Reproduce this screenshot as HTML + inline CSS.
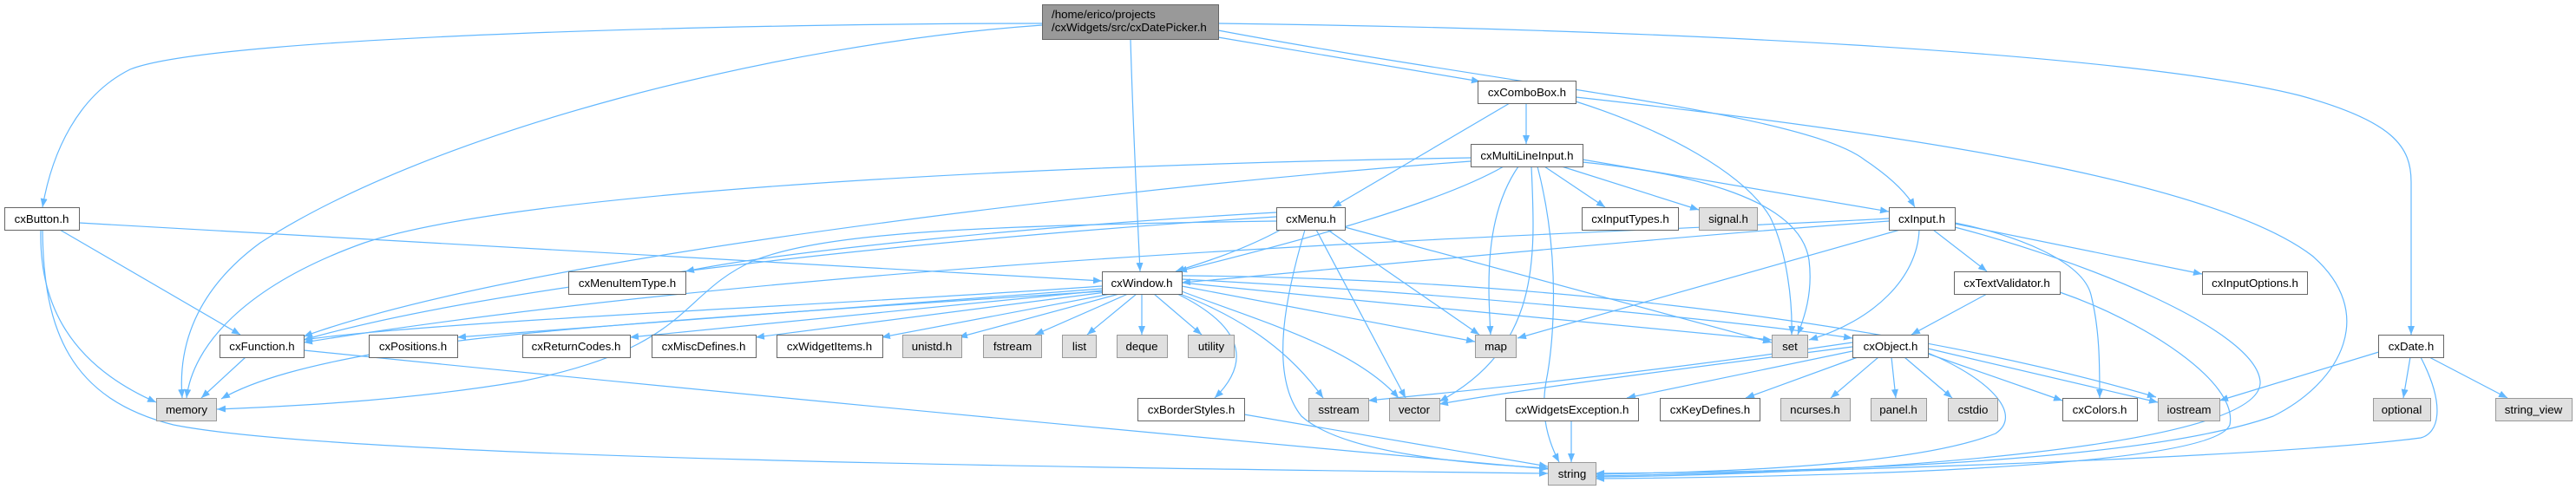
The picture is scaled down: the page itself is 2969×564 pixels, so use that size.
<!DOCTYPE html>
<html><head><meta charset="utf-8"><style>
html,body{margin:0;padding:0;background:#fff;}
svg{display:block;}
text{font-family:"Liberation Sans",Arial,Helvetica,sans-serif;font-size:13.3px;fill:#000;}
</style></head><body>
<svg width="2969" height="564" viewBox="0 0 2969 564" xmlns="http://www.w3.org/2000/svg">
<defs>
<marker id="a" markerUnits="userSpaceOnUse" markerWidth="11" markerHeight="9" refX="10" refY="4" orient="auto">
<path d="M0,0 L10,4 L0,8 Z" fill="#63b8ff"/>
</marker>
</defs>
<g fill="none" stroke="#63b8ff" stroke-width="1.2" marker-end="url(#a)">
<path d="M1201,27 C900,27 250,40 150,80 C90,110 60,175 49,239"/>
<path d="M1201,29 C900,50 500,150 300,280 C225,335 205,400 210,459"/>
<path d="M1303,46 C1306,150 1311,250 1314,313"/>
<path d="M1404,43 L1706,94"/>
<path d="M1404,35 C1750,100 2080,130 2150,185 C2180,205 2197,222 2207,239"/>
<path d="M1404,27 C1900,33 2450,60 2650,110 C2760,140 2779,170 2779,210 L2779,386"/>
<path d="M91,257 L1270,324"/>
<path d="M69,265 L277,386"/>
<path d="M47,265 C45,350 80,420 180,464"/>
<path d="M49,265 C50,380 80,460 200,490 C400,530 1300,540 1784,546"/>
<path d="M1740,119 L1536,239"/>
<path d="M1759,119 L1759,166"/>
<path d="M1816,117 C1920,150 2010,200 2040,250 C2060,290 2066,350 2065,386"/>
<path d="M1816,112 C2250,160 2560,215 2665,295 C2740,360 2700,440 2620,480 C2450,540 2000,545 1839,546"/>
<path d="M1733,192 C1650,240 1450,290 1358,313"/>
<path d="M1824,184 L2177,244"/>
<path d="M1780,192 L1850,239"/>
<path d="M1800,192 L1958,242"/>
<path d="M1695,182 C1200,190 600,220 420,280 C280,330 222,400 215,459"/>
<path d="M1695,186 C1300,215 900,270 700,305 C500,340 400,370 350,388"/>
<path d="M1750,192 C1710,250 1715,330 1718,386"/>
<path d="M1765,192 C1770,300 1775,400 1659,463"/>
<path d="M1772,192 C1800,300 1790,400 1782,440 C1775,480 1785,510 1797,533"/>
<path d="M1824,187 C1950,200 2075,230 2085,300 C2090,340 2078,370 2072,386"/>
<path d="M1476,265 C1430,290 1380,305 1355,313"/>
<path d="M1504,265 C1485,330 1460,430 1500,480 C1550,525 1700,535 1784,540"/>
<path d="M1517,265 L1620,459"/>
<path d="M1530,265 L1705,386"/>
<path d="M1550,262 L2042,395"/>
<path d="M1471,245 C1200,260 900,290 790,313"/>
<path d="M1471,250 C1150,270 600,320 350,392"/>
<path d="M1471,255 C1100,260 950,270 870,300 C780,340 800,400 600,440 C450,465 300,470 250,472"/>
<path d="M2177,255 C1900,275 1600,305 1362,326"/>
<path d="M2177,252 C1900,268 1000,290 350,395"/>
<path d="M2190,265 L1749,390"/>
<path d="M2212,265 C2210,320 2160,370 2085,392"/>
<path d="M2228,265 L2290,313"/>
<path d="M2253,258 L2538,316"/>
<path d="M2253,257 C2320,270 2400,300 2410,340 C2420,380 2420,420 2420,459"/>
<path d="M2253,262 C2400,300 2600,380 2605,440 C2610,520 2100,548 1839,550"/>
<path d="M2290,339 L2203,386"/>
<path d="M2374,337 C2470,370 2580,440 2570,490 C2550,540 2100,550 1839,552"/>
<path d="M2141,412 L2012,459"/>
<path d="M2165,412 L2110,459"/>
<path d="M2180,412 L2185,459"/>
<path d="M2195,412 L2250,459"/>
<path d="M2222,408 L2377,462"/>
<path d="M2222,402 L2487,464"/>
<path d="M2222,407 C2300,440 2330,480 2300,500 C2200,540 1950,545 1839,547"/>
<path d="M2135,395 C1900,430 1700,450 1577,462"/>
<path d="M2135,400 C1900,430 1750,450 1659,466"/>
<path d="M2135,405 L1875,459"/>
<path d="M2745,405 L2558,462"/>
<path d="M2778,412 L2770,459"/>
<path d="M2800,412 L2890,459"/>
<path d="M2790,412 C2820,470 2810,500 2790,505 C2600,530 2000,546 1839,549"/>
<path d="M283,412 L232,459"/>
<path d="M350,404 Q1000,470 1784,541"/>
<path d="M1434,478 L1784,538"/>
<path d="M1811,485 L1811,533"/>
<path d="M1270,330 C1000,350 500,370 350,392"/>
<path d="M1270,333 L527,389"/>
<path d="M1272,335 L726,389"/>
<path d="M1275,337 L871,389"/>
<path d="M1280,339 L1016,389"/>
<path d="M1290,339 L1105,389"/>
<path d="M1300,339 L1193,386"/>
<path d="M1310,339 L1253,386"/>
<path d="M1316,339 L1316,386"/>
<path d="M1330,339 L1385,386"/>
<path d="M1357,339 C1420,370 1450,410 1400,459"/>
<path d="M1360,339 C1440,370 1490,410 1525,459"/>
<path d="M1362,336 C1450,370 1560,400 1612,459"/>
<path d="M1362,330 L1700,394"/>
<path d="M1362,326 C1600,350 1900,380 2042,392"/>
<path d="M1362,322 C1700,340 2000,370 2135,390"/>
<path d="M1362,318 C1700,320 2150,360 2485,458"/>
<path d="M1270,336 C900,360 600,380 480,400 C350,420 290,440 255,460"/>
</g>

<!-- top node -->
<rect x="1201.5" y="5.5" width="203" height="40" fill="#999999" stroke="#666666"/>
<text x="1212" y="21">/home/erico/projects</text>
<text x="1212" y="36">/cxWidgets/src/cxDatePicker.h</text>

<g stroke="#666666" fill="#ffffff">
<rect x="1703.5" y="93.5" width="113" height="26"/>
<rect x="1695.5" y="166.5" width="129" height="26"/>
<rect x="5.5" y="239.5" width="86" height="26"/>
<rect x="1471.5" y="239.5" width="79" height="26"/>
<rect x="1823.5" y="239.5" width="111" height="26"/>
<rect x="2177.5" y="239.5" width="76" height="26"/>
<rect x="655.5" y="313.5" width="135" height="26"/>
<rect x="1270.5" y="313.5" width="92" height="26"/>
<rect x="2252.5" y="313.5" width="122" height="26"/>
<rect x="2538.5" y="313.5" width="121" height="26"/>
<rect x="253.5" y="386.5" width="97" height="26"/>
<rect x="425.5" y="386.5" width="102" height="26"/>
<rect x="602.5" y="386.5" width="124" height="26"/>
<rect x="751.5" y="386.5" width="120" height="26"/>
<rect x="895.5" y="386.5" width="122" height="26"/>
<rect x="2135.5" y="386.5" width="87" height="26"/>
<rect x="2741.5" y="386.5" width="75" height="26"/>
<rect x="1311.5" y="459.5" width="123" height="26"/>
<rect x="1735.5" y="459.5" width="153" height="26"/>
<rect x="1913.5" y="459.5" width="115" height="26"/>
<rect x="2377.5" y="459.5" width="86" height="26"/>
</g>
<g stroke="#999999" fill="#e0e0e0">
<rect x="1958.5" y="239.5" width="67" height="26"/>
<rect x="1040.5" y="386.5" width="68" height="26"/>
<rect x="1133.5" y="386.5" width="67" height="26"/>
<rect x="1224.5" y="386.5" width="39" height="26"/>
<rect x="1287.5" y="386.5" width="58" height="26"/>
<rect x="1369.5" y="386.5" width="53" height="26"/>
<rect x="1700.5" y="386.5" width="47" height="26"/>
<rect x="2042.5" y="386.5" width="41" height="26"/>
<rect x="180.5" y="459.5" width="69" height="26"/>
<rect x="1508.5" y="459.5" width="69" height="26"/>
<rect x="1601.5" y="459.5" width="58" height="26"/>
<rect x="2052.5" y="459.5" width="80" height="26"/>
<rect x="2156.5" y="459.5" width="64" height="26"/>
<rect x="2245.5" y="459.5" width="57" height="26"/>
<rect x="2487.5" y="459.5" width="71" height="26"/>
<rect x="2735.5" y="459.5" width="66" height="26"/>
<rect x="2876.5" y="459.5" width="88" height="26"/>
<rect x="1784.5" y="533.5" width="55" height="26"/>
</g>

<g text-anchor="middle">
<text x="1760" y="111">cxComboBox.h</text>
<text x="1760" y="184">cxMultiLineInput.h</text>
<text x="48" y="257">cxButton.h</text>
<text x="1511" y="257">cxMenu.h</text>
<text x="1879" y="257">cxInputTypes.h</text>
<text x="1992" y="257">signal.h</text>
<text x="2215" y="257">cxInput.h</text>
<text x="723" y="331">cxMenuItemType.h</text>
<text x="1316" y="331">cxWindow.h</text>
<text x="2313" y="331">cxTextValidator.h</text>
<text x="2599" y="331">cxInputOptions.h</text>
<text x="302" y="404">cxFunction.h</text>
<text x="476" y="404">cxPositions.h</text>
<text x="664" y="404">cxReturnCodes.h</text>
<text x="811" y="404">cxMiscDefines.h</text>
<text x="956" y="404">cxWidgetItems.h</text>
<text x="1074" y="404">unistd.h</text>
<text x="1167" y="404">fstream</text>
<text x="1244" y="404">list</text>
<text x="1316" y="404">deque</text>
<text x="1396" y="404">utility</text>
<text x="1724" y="404">map</text>
<text x="2063" y="404">set</text>
<text x="2179" y="404">cxObject.h</text>
<text x="2779" y="404">cxDate.h</text>
<text x="215" y="477">memory</text>
<text x="1373" y="477">cxBorderStyles.h</text>
<text x="1543" y="477">sstream</text>
<text x="1630" y="477">vector</text>
<text x="1812" y="477">cxWidgetsException.h</text>
<text x="1971" y="477">cxKeyDefines.h</text>
<text x="2092" y="477">ncurses.h</text>
<text x="2188" y="477">panel.h</text>
<text x="2274" y="477">cstdio</text>
<text x="2420" y="477">cxColors.h</text>
<text x="2523" y="477">iostream</text>
<text x="2768" y="477">optional</text>
<text x="2920" y="477">string_view</text>
<text x="1812" y="551">string</text>
</g>
</svg>
</body></html>
